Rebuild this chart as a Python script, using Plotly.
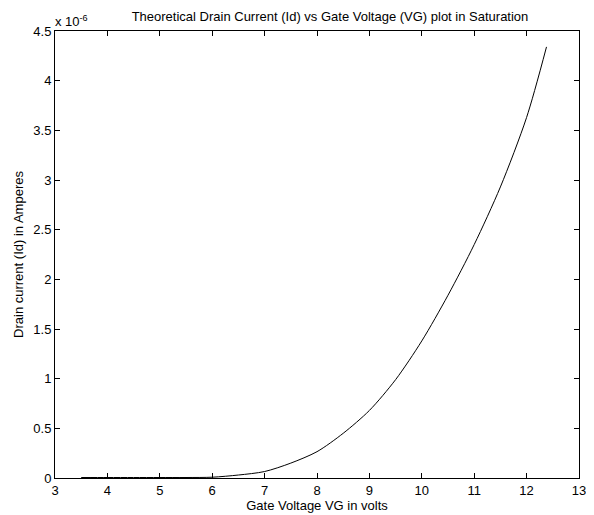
import plotly.graph_objects as go

gate_voltage = [3.5, 4.0, 4.5, 5.0, 5.5, 6.0, 6.5, 7.0, 7.5, 8.0, 8.5, 9.0, 9.5, 10.0, 10.5, 11.0, 11.5, 12.0, 12.38]
# drain current in units of 1e-6 A
drain_current = [0.005, 0.005, 0.005, 0.005, 0.005, 0.008, 0.03, 0.065, 0.15, 0.265, 0.45, 0.68, 0.99, 1.38, 1.84, 2.35, 2.93, 3.63, 4.34]

x_ticks = [3, 4, 5, 6, 7, 8, 9, 10, 11, 12, 13]
y_ticks = [0, 0.5, 1, 1.5, 2, 2.5, 3, 3.5, 4, 4.5]
y_tick_text = ["0", "0.5", "1", "1.5", "2", "2.5", "3", "3.5", "4", "4.5"]

font_family = "Liberation Sans, Arial, sans-serif"
fs = 13

# page body has an 8px margin; size the figure so the plot lands where the reference has it
W, H = 586, 507

fig = go.Figure()
fig.add_trace(go.Scatter(
    x=gate_voltage, y=drain_current, mode="lines",
    line=dict(color="black", width=1, shape="spline", smoothing=0.8), showlegend=False,
))

axis_common = dict(
    showgrid=False, zeroline=False, showline=True, linecolor="black", linewidth=1,
    mirror="ticks", ticks="inside", ticklen=5, tickcolor="black", tickwidth=1,
    tickfont=dict(family=font_family, size=fs, color="black"), automargin=False,
)

fig.update_layout(
    width=W, height=H,
    margin=dict(l=47, r=15, t=23, b=37),
    paper_bgcolor="white", plot_bgcolor="white",
    font=dict(family=font_family, size=fs, color="black"),
    title=dict(text="Theoretical Drain Current (Id) vs Gate Voltage (VG) plot in Saturation",
               x=322 / W, xanchor="center", y=1 - 8 / H, yanchor="middle",
               font=dict(family=font_family, size=fs, color="black")),
    xaxis=dict(range=[3, 13], tickvals=x_ticks,
               title=dict(text="Gate Voltage VG in volts", standoff=2,
                          font=dict(family=font_family, size=fs)),
               **axis_common),
    yaxis=dict(range=[0, 4.5], tickvals=y_ticks, ticktext=y_tick_text,
               title=dict(text="Drain current (Id) in Amperes", standoff=6,
                          font=dict(family=font_family, size=fs)),
               **axis_common),
    annotations=[dict(text="x 10<sup>-6</sup>", xref="paper", yref="paper",
                      x=-0.003, y=1.0, xanchor="left", yanchor="bottom", showarrow=False,
                      font=dict(family=font_family, size=fs, color="black"))],
)

fig.write_html("out.html")
